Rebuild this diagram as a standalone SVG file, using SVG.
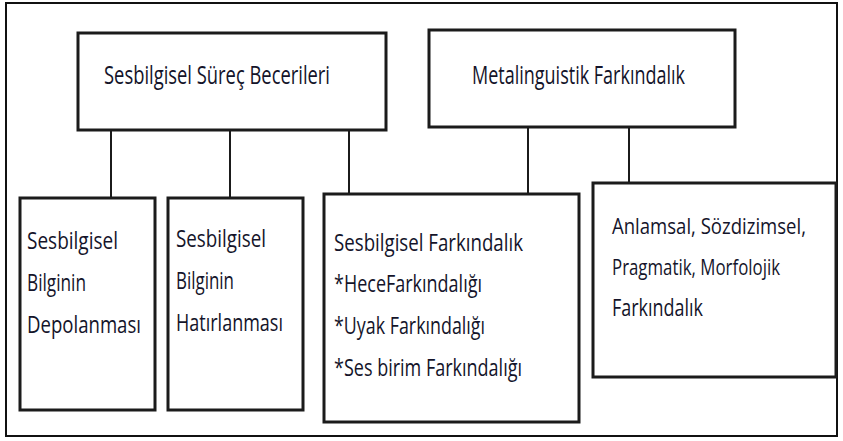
<svg xmlns="http://www.w3.org/2000/svg" width="843" height="441" viewBox="0 0 843 441">
  <style>
    .frame { fill: #ffffff; stroke: #111111; stroke-width: 2; }
    .box { fill: #ffffff; stroke: #1b1b1b; stroke-width: 3; }
    .wire { stroke: #1b1b1b; stroke-width: 2; fill: none; }
    .t { font-family: "Open Sans", "Noto Sans", sans-serif; font-size: 24px; fill: #14142a; }
    .title { font-size: 25px; }
    .narrow { font-size: 21px; }
  </style>
  <rect x="0" y="0" width="843" height="441" fill="#ffffff"/>
  <rect class="frame" x="6" y="3" width="831" height="433"/>

  <!-- connectors: top-level boxes to their children -->
  <g id="connectors">
    <line class="wire" x1="111" y1="130" x2="111" y2="198"/>
    <line class="wire" x1="230" y1="130" x2="230" y2="198"/>
    <line class="wire" x1="349" y1="130" x2="349" y2="194"/>
    <line class="wire" x1="528" y1="127" x2="528" y2="194"/>
    <line class="wire" x1="629" y1="127" x2="629" y2="183"/>
  </g>

  <g id="node-surec">
    <rect class="box" x="78" y="33" width="308" height="97"/>
    <text class="t title" x="104" y="84" textLength="226" lengthAdjust="spacingAndGlyphs">Sesbilgisel Süreç Becerileri</text>
  </g>

  <g id="node-metalinguistik">
    <rect class="box" x="429" y="30" width="306" height="97"/>
    <text class="t title" x="472" y="84" textLength="213" lengthAdjust="spacingAndGlyphs">Metalinguistik Farkındalık</text>
  </g>

  <g id="node-depolama">
    <rect class="box" x="20" y="198" width="135" height="212"/>
    <text class="t" x="27" y="249" textLength="91" lengthAdjust="spacingAndGlyphs">Sesbilgisel</text>
    <text class="t" x="27" y="291" textLength="59" lengthAdjust="spacingAndGlyphs">Bilginin</text>
    <text class="t" x="27" y="333" textLength="114" lengthAdjust="spacingAndGlyphs">Depolanması</text>
  </g>

  <g id="node-hatirlama">
    <rect class="box" x="168" y="198" width="135" height="212"/>
    <text class="t" x="176" y="247" textLength="90" lengthAdjust="spacingAndGlyphs">Sesbilgisel</text>
    <text class="t" x="176" y="289" textLength="58" lengthAdjust="spacingAndGlyphs">Bilginin</text>
    <text class="t" x="176" y="331" textLength="107" lengthAdjust="spacingAndGlyphs">Hatırlanması</text>
  </g>

  <g id="node-sesbilgisel-farkindalik">
    <rect class="box" x="324" y="194" width="255" height="228"/>
    <text class="t" x="334" y="251" textLength="189" lengthAdjust="spacingAndGlyphs">Sesbilgisel Farkındalık</text>
    <text class="t" x="334" y="292" textLength="148" lengthAdjust="spacingAndGlyphs">*HeceFarkındalığı</text>
    <text class="t" x="334" y="334" textLength="151" lengthAdjust="spacingAndGlyphs">*Uyak Farkındalığı</text>
    <text class="t" x="334" y="376" textLength="188" lengthAdjust="spacingAndGlyphs">*Ses birim Farkındalığı</text>
  </g>

  <g id="node-anlamsal">
    <rect class="box" x="593" y="183" width="243" height="194"/>
    <text class="t narrow" x="612" y="234" textLength="194" lengthAdjust="spacingAndGlyphs">Anlamsal, Sözdizimsel,</text>
    <text class="t narrow" x="612" y="275" textLength="168" lengthAdjust="spacingAndGlyphs">Pragmatik, Morfolojik</text>
    <text class="t" x="612" y="316" textLength="91" lengthAdjust="spacingAndGlyphs">Farkındalık</text>
  </g>
</svg>
